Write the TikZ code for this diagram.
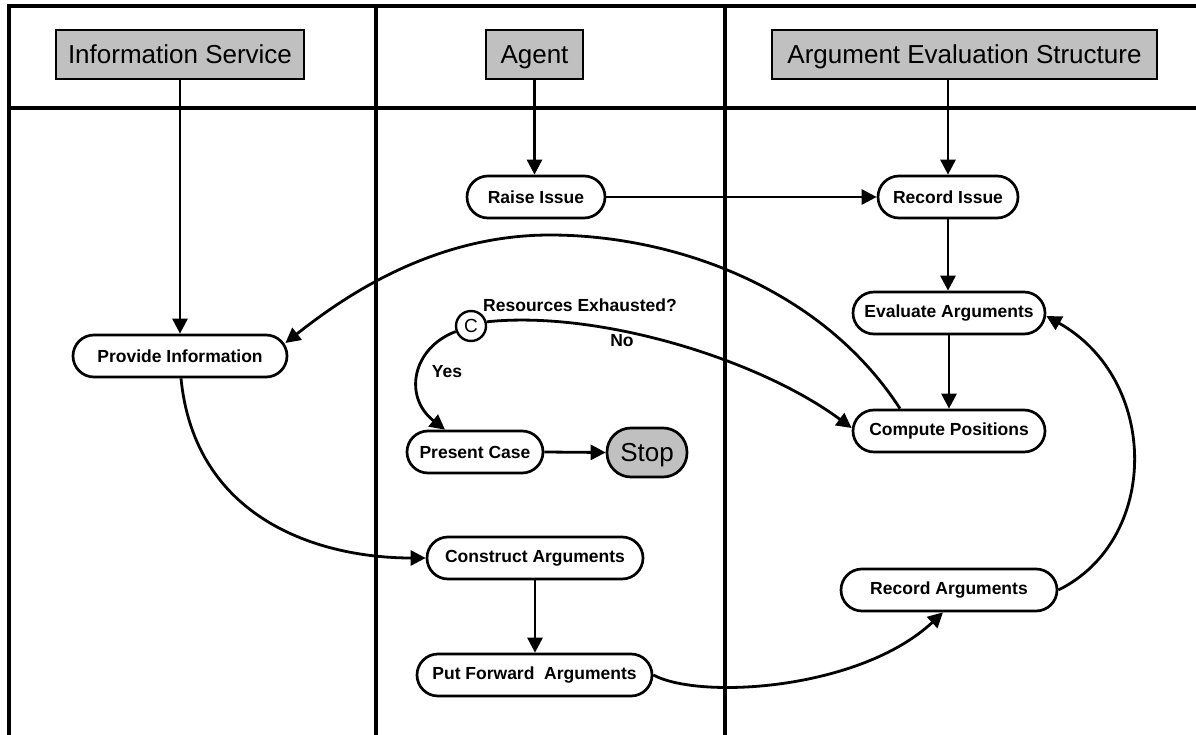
\documentclass[tikz,border=0pt]{standalone}
\usepackage{fontspec}
\setmainfont{Liberation Sans}
\usetikzlibrary{arrows.meta,calc}
\definecolor{hgray}{HTML}{C0C0C0}
\tikzset{
 lane/.style={line width=3.2pt},
 hdr/.style={draw, line width=2.4pt, fill=hgray, minimum height=49pt, inner sep=0pt, text height=19pt, text depth=1pt, font=\fontsize{26}{30}\selectfont},
 proc/.style={draw, line width=2.7pt, fill=white, rounded corners=21pt, minimum height=42pt, inner sep=0pt, font=\fontsize{17.5}{21}\selectfont\bfseries},
 stopnode/.style={draw, line width=2.7pt, fill=hgray, rounded corners=24pt, minimum height=49pt, minimum width=80pt, inner sep=0pt, text height=19pt, text depth=2pt, font=\fontsize{26}{30}\selectfont},
 cnode/.style={draw, circle, line width=2.4pt, fill=white, minimum size=30pt, inner sep=0pt, font=\fontsize{19}{21}\selectfont},
 conn/.style={line width=2.8pt, -{Triangle[length=15pt,width=15pt]}},
 lbl/.style={font=\fontsize{17.5}{21}\selectfont\bfseries, inner sep=0pt},
}
\begin{document}
\begin{tikzpicture}[x=1pt,y=-1pt]
\useasboundingbox (0,0) rectangle (1196,735);
% swimlane frame
\draw[lane] (1196,6) -- (9,6) -- (9,735);
\draw[lane] (9,108) -- (1196,108);
\draw[lane] (376,6) -- (376,735);
\draw[lane] (725,6) -- (725,735);
% headers
\node[hdr, minimum width=248pt] (hinfo) at (180,54.5) {Information Service};
\node[hdr, minimum width=97pt] (hagent) at (534.5,54.5) {Agent};
\node[hdr, minimum width=385pt] (haes) at (964.5,54.5) {Argument Evaluation Structure};
% process nodes
\node[proc, minimum width=138pt] (ri) at (536,197) {Raise Issue};
\node[proc, minimum width=140pt] (rec) at (948,197) {Record Issue};
\node[proc, minimum width=192pt] (ev) at (949,313) {Evaluate Arguments};
\node[proc, minimum width=192pt] (cp) at (949,431) {Compute Positions};
\node[proc, minimum width=214pt] (pi) at (180,356) {Provide Information};
\node[proc, minimum width=136pt] (pc) at (475,452) {Present Case};
\node[stopnode] (stop) at (647,452.5) {Stop};
\node[proc, minimum width=216pt] (ca) at (535,558) {Construct Arguments};
\node[proc, minimum width=235pt] (pf) at (534.5,675) {Put Forward~ Arguments};
\node[proc, minimum width=216pt] (ra) at (949,590) {Record Arguments};
\node[cnode] (c) at (471,326) {C};
% labels
\node[lbl] (lres) at (580,305) {Resources Exhausted?};
\node[lbl] (lno) at (622,341) {No};
\node[lbl] (lyes) at (447,372) {Yes};
% straight connectors
\draw[conn] (hinfo.south) -- (hinfo.south |- pi.north);
\draw[conn] (hagent.south) -- (hagent.south |- ri.north);
\draw[conn] (rec.north |- haes.south) -- (rec.north);
\draw[conn] (ri.east) -- (rec.west);
\draw[conn] (rec.south) -- (rec.south |- ev.north);
\draw[conn] (ev.south) -- (ev.south |- cp.north);
\draw[conn] (pc.east) -- (stop.west);
\draw[conn] (ca.south) -- (ca.south |- pf.north);
% curved connectors
\draw[conn] ([xshift=-49pt]cp.north) .. controls (820,285) and (670,235) .. (550,235)
  .. controls (430,235) and (340,300) .. ([xshift=-3pt,yshift=13pt]pi.east);
\draw[conn] (c.15) .. controls (600,310) and (760,360) .. ([yshift=3pt]cp.west);
\draw[conn] (c.200) .. controls (412,348) and (403,397) .. ([xshift=-30pt]pc.north);
\draw[conn] ([xshift=1pt]pi.south) .. controls (195,520) and (320,558) .. (ca.west);
\draw[conn] (pf.east) .. controls (700,700) and (860,690) .. ([xshift=-6pt]ra.south);
\draw[conn] (ra.east) .. controls (1160,540) and (1160,380) .. ([yshift=-3pt]ev.east);
\end{tikzpicture}
\end{document}
